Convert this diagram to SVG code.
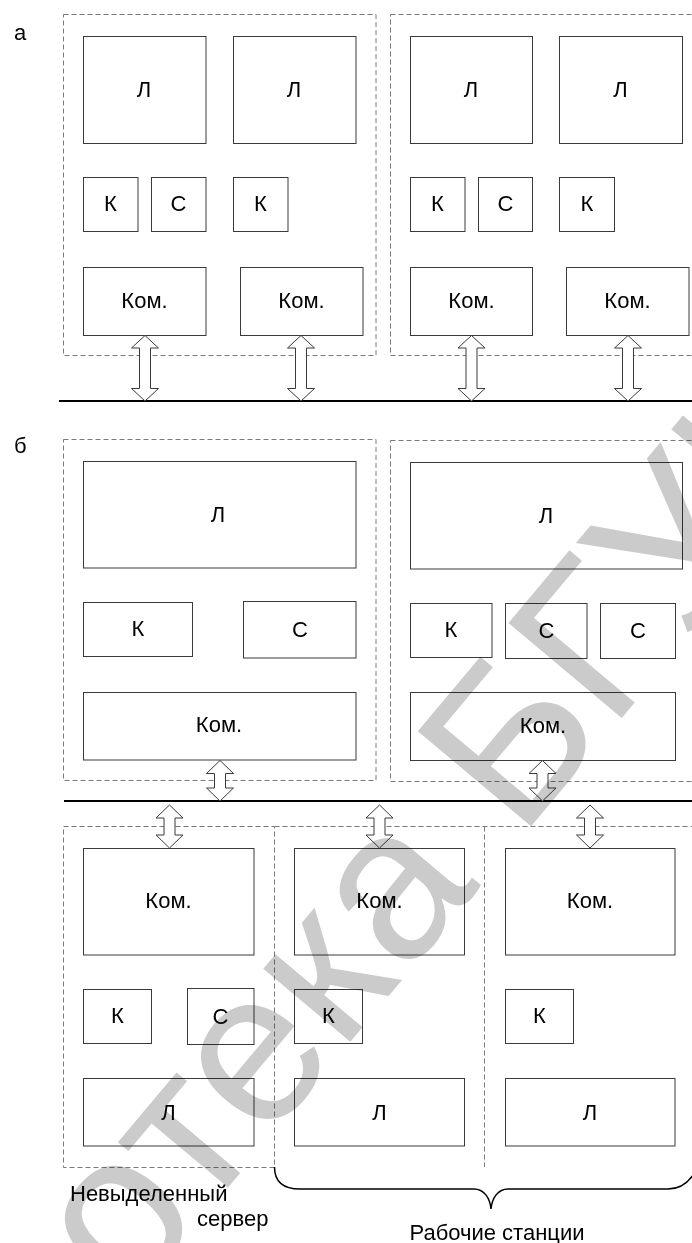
<svg xmlns="http://www.w3.org/2000/svg" width="692" height="1243" viewBox="0 0 692 1243">
<style>
.box{fill:#fff;stroke:#3a3a3a;stroke-width:1}
.grp{fill:none;stroke:#7a7a7a;stroke-width:1;stroke-dasharray:5 3}
.lbl{font-family:"Liberation Sans",Arial,sans-serif;font-size:22px;fill:#000;text-anchor:middle}
.cap{font-family:"Liberation Sans",Arial,sans-serif;font-size:22px;fill:#000}
.arr{fill:#fff;stroke:#3a3a3a;stroke-width:1}
.bus{stroke:#000;stroke-width:2;fill:none}
.brace{stroke:#000;stroke-width:1.5;fill:none}
.wm{font-family:"Liberation Sans",Arial,sans-serif;font-size:215px;fill:#cbcbcb;mix-blend-mode:multiply}
</style>
<rect width="692" height="1243" fill="#fff"/>
<text class="cap" x="14" y="40">а</text>
<text class="cap" x="14" y="453">б</text>

<!-- group containers -->
<g id="groups">
<rect class="grp" x="63.5" y="14.5" width="312.5" height="341"/>
<rect class="grp" x="390.5" y="14.5" width="320" height="341"/>
<rect class="grp" x="63.5" y="439.5" width="312.5" height="341"/>
<rect class="grp" x="390.5" y="440.5" width="320" height="341"/>
<rect class="grp" x="63.5" y="826.5" width="211" height="341"/>
<path class="grp" d="M274.5 826.5 H700 M484.5 826.5 V1167"/>
</g>

<!-- section a -->
<g id="a-L1"><rect class="box" x="83.5" y="36.5" width="122.5" height="107"/><text class="lbl" x="144" y="97">Л</text></g>
<g id="a-L2"><rect class="box" x="233.5" y="36.5" width="122.5" height="107"/><text class="lbl" x="294" y="97">Л</text></g>
<g id="a-K1"><rect class="box" x="83.5" y="177.5" width="54.5" height="54"/><text class="lbl" x="110.5" y="211">К</text></g>
<g id="a-C1"><rect class="box" x="151.5" y="177.5" width="54.5" height="54"/><text class="lbl" x="178.5" y="211">С</text></g>
<g id="a-K2"><rect class="box" x="233.5" y="177.5" width="54.5" height="54"/><text class="lbl" x="260.5" y="211">К</text></g>
<g id="a-Kom1"><rect class="box" x="83.5" y="267.5" width="122.5" height="68"/><text class="lbl" x="144.5" y="308">Ком.</text></g>
<g id="a-Kom2"><rect class="box" x="240.5" y="267.5" width="122.5" height="68"/><text class="lbl" x="301.5" y="308">Ком.</text></g>
<g id="a-L3"><rect class="box" x="410.5" y="36.5" width="122" height="107"/><text class="lbl" x="471" y="97">Л</text></g>
<g id="a-L4"><rect class="box" x="559.5" y="36.5" width="123" height="107"/><text class="lbl" x="620.5" y="97">Л</text></g>
<g id="a-K3"><rect class="box" x="410.5" y="177.5" width="54.5" height="54"/><text class="lbl" x="437.5" y="211">К</text></g>
<g id="a-C3"><rect class="box" x="478.5" y="177.5" width="54" height="54"/><text class="lbl" x="505.5" y="211">С</text></g>
<g id="a-K4"><rect class="box" x="559.5" y="177.5" width="55" height="54"/><text class="lbl" x="587" y="211">К</text></g>
<g id="a-Kom3"><rect class="box" x="410.5" y="267.5" width="122" height="68"/><text class="lbl" x="471.5" y="308">Ком.</text></g>
<g id="a-Kom4"><rect class="box" x="566.5" y="267.5" width="122.5" height="68"/><text class="lbl" x="627.5" y="308">Ком.</text></g>

<!-- section b top -->
<g id="b-L5"><rect class="box" x="83.5" y="461.5" width="272.5" height="106.5"/><text class="lbl" x="218" y="522">Л</text></g>
<g id="b-K5"><rect class="box" x="83.5" y="602.5" width="109" height="54"/><text class="lbl" x="138" y="636">К</text></g>
<g id="b-C5"><rect class="box" x="243.5" y="601.5" width="112.5" height="56.5"/><text class="lbl" x="300" y="637">С</text></g>
<g id="b-Kom5"><rect class="box" x="83.5" y="692.5" width="272.5" height="67.5"/><text class="lbl" x="219" y="732">Ком.</text></g>
<g id="b-L6"><rect class="box" x="410.5" y="462.5" width="272" height="106.5"/><text class="lbl" x="546" y="523">Л</text></g>
<g id="b-K6"><rect class="box" x="410.5" y="603.5" width="81.5" height="54"/><text class="lbl" x="451" y="637">К</text></g>
<g id="b-C6"><rect class="box" x="505.5" y="603.5" width="81.5" height="55"/><text class="lbl" x="546.5" y="638">С</text></g>
<g id="b-C7"><rect class="box" x="600.5" y="603.5" width="75" height="55"/><text class="lbl" x="638" y="638">С</text></g>
<g id="b-Kom6"><rect class="box" x="410.5" y="692.5" width="265" height="68"/><text class="lbl" x="543" y="733">Ком.</text></g>

<!-- section b bottom -->
<g id="s-Kom7"><rect class="box" x="83.5" y="848.5" width="170.5" height="106.5"/><text class="lbl" x="168.5" y="908">Ком.</text></g>
<g id="s-K7"><rect class="box" x="83.5" y="989.5" width="68" height="54"/><text class="lbl" x="117.5" y="1023">К</text></g>
<g id="s-C7"><rect class="box" x="187.5" y="988.5" width="66.5" height="56"/><text class="lbl" x="220.5" y="1024">С</text></g>
<g id="s-L7"><rect class="box" x="83.5" y="1078.5" width="170.5" height="67.5"/><text class="lbl" x="168.5" y="1120">Л</text></g>
<g id="w-Kom8"><rect class="box" x="294.5" y="848.5" width="170" height="106.5"/><text class="lbl" x="379.5" y="908">Ком.</text></g>
<g id="w-K8"><rect class="box" x="294.5" y="989.5" width="68" height="54"/><text class="lbl" x="328.5" y="1023">К</text></g>
<g id="w-L8"><rect class="box" x="294.5" y="1078.5" width="170" height="67.5"/><text class="lbl" x="379.5" y="1120">Л</text></g>
<g id="w-Kom9"><rect class="box" x="505.5" y="848.5" width="169.5" height="106.5"/><text class="lbl" x="590" y="908">Ком.</text></g>
<g id="w-K9"><rect class="box" x="505.5" y="989.5" width="68" height="54"/><text class="lbl" x="539.5" y="1023">К</text></g>
<g id="w-L9"><rect class="box" x="505.5" y="1078.5" width="169.5" height="67.5"/><text class="lbl" x="590" y="1120">Л</text></g>

<!-- connectors -->
<g id="connectors">
<line class="bus" x1="59" y1="401" x2="692" y2="401"/>
<line class="bus" x1="64" y1="801" x2="692" y2="801"/>
<path class="arr" d="M145 335.5 L158.5 348 L150.5 348 L150.5 388.5 L158.5 388.5 L145 401 L131.5 388.5 L139.5 388.5 L139.5 348 L131.5 348 Z"/>
<path class="arr" d="M301 335.5 L314.5 348 L306.5 348 L306.5 388.5 L314.5 388.5 L301 401 L287.5 388.5 L295.5 388.5 L295.5 348 L287.5 348 Z"/>
<path class="arr" d="M471.5 335.5 L485 348 L477 348 L477 388.5 L485 388.5 L471.5 401 L458 388.5 L466 388.5 L466 348 L458 348 Z"/>
<path class="arr" d="M628 335.5 L641.5 348 L633.5 348 L633.5 388.5 L641.5 388.5 L628 401 L614.5 388.5 L622.5 388.5 L622.5 348 L614.5 348 Z"/>
<path class="arr" d="M220 760.5 L233.5 773.5 L225.5 773.5 L225.5 788 L233.5 788 L220 801 L206.5 788 L214.5 788 L214.5 773.5 L206.5 773.5 Z"/>
<path class="arr" d="M542.5 760.5 L556 773.5 L548 773.5 L548 788 L556 788 L542.5 801 L529 788 L537 788 L537 773.5 L529 773.5 Z"/>
<path class="arr" d="M169.5 805 L183 818 L175 818 L175 835 L183 835 L169.5 848 L156 835 L164 835 L164 818 L156 818 Z"/>
<path class="arr" d="M379.5 805 L393 818 L385 818 L385 835 L393 835 L379.5 848 L366 835 L374 835 L374 818 L366 818 Z"/>
<path class="arr" d="M590 805 L603.5 818 L595.5 818 L595.5 835 L603.5 835 L590 848 L576.5 835 L584.5 835 L584.5 818 L576.5 818 Z"/>
<path class="brace" d="M274.5 1167 C274.5 1182 284 1189 300 1189 L474 1189 C484 1189 490 1198 491 1209 C492 1198 498 1189 508 1189 L668 1189 C681 1189 689 1182 695 1172"/>
</g>

<text class="cap" x="70" y="1201">Невыделенный</text>
<text class="cap" x="197" y="1226">сервер</text>
<text class="lbl" x="497" y="1240">Рабочие станции</text>

<text class="wm" x="-270" y="1781" transform="rotate(-50 -270 1781)">Библиотека БГУИР</text>
</svg>
